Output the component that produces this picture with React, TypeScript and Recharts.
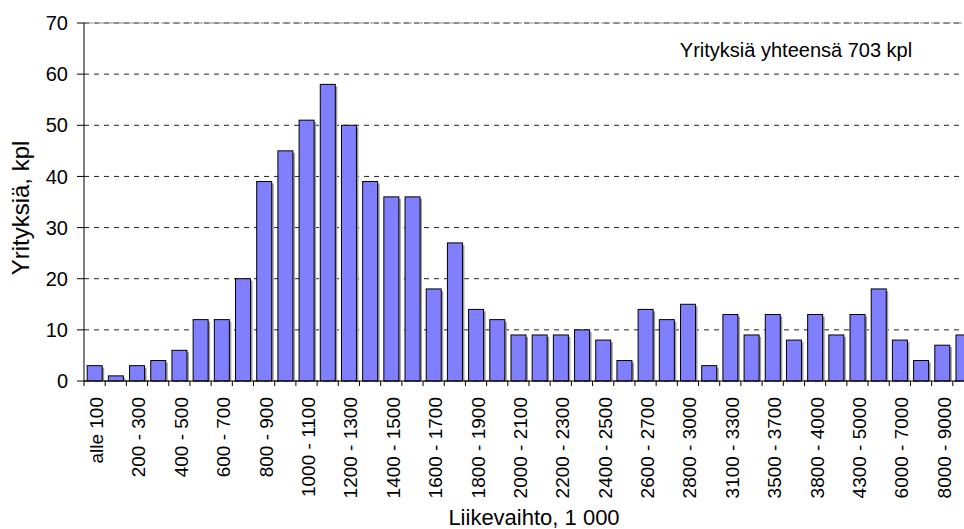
import { BarChart, Bar, XAxis, YAxis, CartesianGrid, ReferenceLine, Label } from 'recharts'

const categories = [
  'alle 100', '100 - 200', '200 - 300', '300 - 400', '400 - 500', '500 - 600',
  '600 - 700', '700 - 800', '800 - 900', '900 - 1000', '1000 - 1100', '1100 - 1200',
  '1200 - 1300', '1300 - 1400', '1400 - 1500', '1500 - 1600', '1600 - 1700', '1700 - 1800',
  '1800 - 1900', '1900 - 2000', '2000 - 2100', '2100 - 2200', '2200 - 2300', '2300 - 2400',
  '2400 - 2500', '2500 - 2600', '2600 - 2700', '2700 - 2800', '2800 - 3000', '3000 - 3100',
  '3100 - 3300', '3300 - 3500', '3500 - 3700', '3700 - 3800', '3800 - 4000', '4000 - 4300',
  '4300 - 5000', '5000 - 6000', '6000 - 7000', '7000 - 8000', '8000 - 9000', 'yli 9000',
]
const companies = [
  3, 1, 3, 4, 6, 12, 12, 20, 39, 45, 51, 58, 50, 39, 36, 36, 18, 27, 14, 12, 9,
  9, 9, 10, 8, 4, 14, 12, 15, 3, 13, 9, 13, 8, 13, 9, 13, 18, 8, 4, 7, 9,
]
const yTicks = [0, 10, 20, 30, 40, 50, 60, 70]

const font = '"Liberation Sans", Arial, sans-serif'

const data = categories.map((c, i) => ({ name: c, value: companies[i] }))

function XTick(props: any) {
  const { x, y, payload, index } = props
  const half = payload && payload.offset ? payload.offset : 10.6
  const ty = y + 11
  return (
    <g>
      {index === 0 && <line x1={x - half} x2={x - half} y1={y - 5} y2={y} stroke="#000" />}
      <line x1={x + half} x2={x + half} y1={y - 5} y2={y} stroke="#000" />
      {index % 2 === 0 && (
        <text
          x={x}
          y={ty}
          dy={8.5}
          transform={`rotate(-90, ${x}, ${ty})`}
          textAnchor="end"
          fontSize={19}
          fontFamily={font}
          fill="#000"
        >
          {payload.value}
        </text>
      )}
    </g>
  )
}

function ShadowBar(props: any) {
  const { x, y, width, height } = props
  if (!height) return null
  return (
    <g>
      <rect x={x + 2} y={y + 2} width={width} height={Math.max(height - 2, 0)} fill="#9a9a9a" />
      <rect x={x} y={y} width={width} height={height} fill="#8080ff" stroke="#000" strokeWidth={1} />
    </g>
  )
}

export default function App() {
  return (
    <div style={{ position: 'fixed', left: 0, top: 0, width: 964, height: 529, overflow: 'hidden', background: '#fff' }}>
      <BarChart
        width={980}
        height={529}
        data={data}
        margin={{ top: 23, right: 6, left: 0, bottom: 0 }}
        barCategoryGap="15%"
      >
        <CartesianGrid vertical={false} stroke="#222" strokeDasharray="5 5" />
        <XAxis
          dataKey="name"
          interval={0}
          height={148}
          tickLine={false}
          tickSize={5}
          tickMargin={0}
          axisLine={{ stroke: '#000' }}
          tick={<XTick />}
        >
          <Label
            content={(p: any) => (
              <text
                x={p.viewBox.x + p.viewBox.width / 2 + 5}
                y={525}
                textAnchor="middle"
                fontSize={22}
                fontFamily={font}
                fill="#000"
              >
                Liikevaihto, 1 000
              </text>
            )}
          />
        </XAxis>
        <YAxis
          domain={[0, 70]}
          ticks={yTicks}
          width={84}
          tickSize={7}
          tickMargin={9}
          tickLine={{ stroke: '#000' }}
          axisLine={{ stroke: '#000' }}
          tick={{ fontSize: 20, fontFamily: font, fill: '#000' }}
        >
          <Label
            content={(p: any) => {
              const cy = p.viewBox.y + p.viewBox.height / 2 + 6
              return (
                <text
                  x={29}
                  y={cy}
                  transform={`rotate(-90, 29, ${cy})`}
                  textAnchor="middle"
                  fontSize={24}
                  fontFamily={font}
                  fill="#000"
                >
                  Yrityksiä, kpl
                </text>
              )
            }}
          />
        </YAxis>
        <ReferenceLine y={70} stroke="#888" strokeDasharray="9 2">
          <Label
            content={(p: any) => (
              <text
                x={p.viewBox.x + p.viewBox.width * 0.8}
                y={p.viewBox.y + 34}
                textAnchor="middle"
                fontSize={20}
                fontFamily={font}
                fill="#000"
              >
                Yrityksiä yhteensä 703 kpl
              </text>
            )}
          />
        </ReferenceLine>
        <Bar dataKey="value" shape={<ShadowBar />} isAnimationActive={false} />
      </BarChart>
    </div>
  )
}
